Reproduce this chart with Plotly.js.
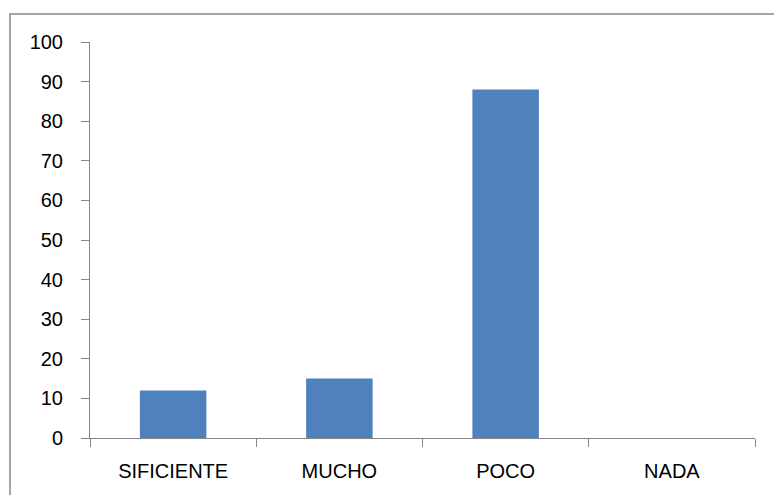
<!DOCTYPE html>
<html>
<head>
<meta charset="utf-8">
<script src="https://cdn.plot.ly/plotly-3.0.1.min.js"></script>
<style>html,body{margin:0;padding:0;background:#fff;}#chart{width:774px;height:495px;}</style>
</head>
<body>
<div id="chart"></div>
<script>
var categories = ["SIFICIENTE", "MUCHO", "POCO", "NADA"];
var values = [12, 15, 88, 0];
var yTicks = [0, 10, 20, 30, 40, 50, 60, 70, 80, 90, 100];

var W = 774, H = 495;
var L = 90, R = 19, T = 42, B = 57;
var pw = W - L - R, ph = H - T - B;
function px(x) { return (x - L) / pw; }
function py(y) { return (H - B - y) / ph; }

var trace = {
  type: "bar",
  x: categories,
  y: values,
  marker: { color: "#4F81BD", line: { width: 0 } },
  hoverinfo: "none"
};

var layout = {
  width: W, height: H,
  margin: { l: L, r: R, t: T, b: B, pad: 0 },
  paper_bgcolor: "#ffffff",
  plot_bgcolor: "#ffffff",
  showlegend: false,
  bargap: 0.6,
  font: { family: "Liberation Sans, Arial, sans-serif", size: 20, color: "#000000" },
  xaxis: {
    type: "category",
    showgrid: false,
    zeroline: false,
    showline: true,
    linecolor: "#868686",
    linewidth: 1,
    ticks: "outside",
    tickson: "boundaries",
    ticklen: 8,
    tickcolor: "#868686",
    tickfont: { size: 20 },
    ticklabelstandoff: 15,
    fixedrange: true
  },
  yaxis: {
    range: [0, 100],
    tickvals: yTicks,
    ticktext: yTicks.map(String),
    showgrid: false,
    zeroline: false,
    showline: true,
    linecolor: "#868686",
    linewidth: 1,
    ticks: "outside",
    ticklen: 8,
    tickcolor: "#868686",
    tickfont: { size: 20 },
    ticklabelstandoff: 14,
    fixedrange: true
  },
  shapes: [{
    type: "rect", xref: "paper", yref: "paper",
    x0: px(10), x1: px(790), y0: py(520), y1: py(14),
    line: { color: "#888888", width: 1.5 },
    fillcolor: "rgba(0,0,0,0)",
    layer: "below"
  }]
};

Plotly.newPlot("chart", [trace], layout, { displayModeBar: false, staticPlot: true });
</script>
</body>
</html>
